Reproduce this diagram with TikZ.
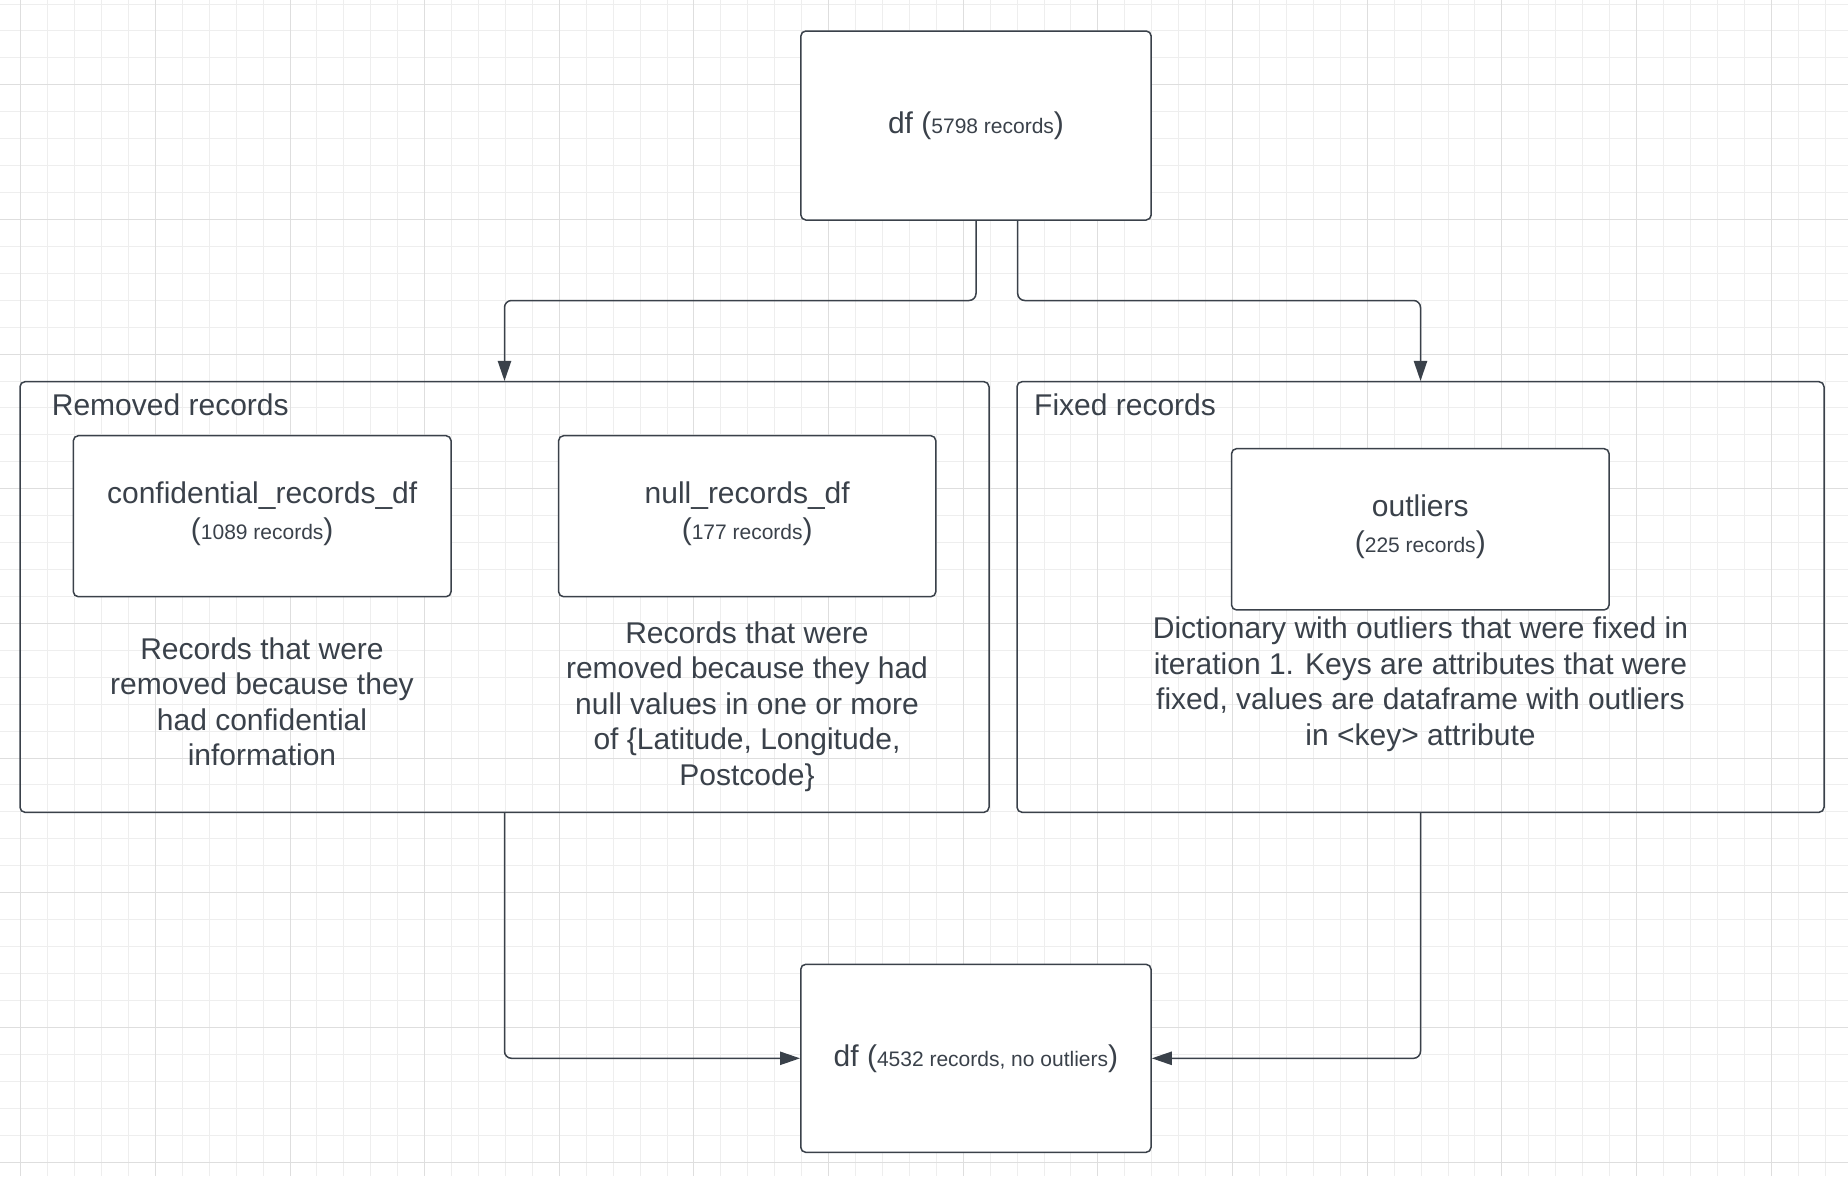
\documentclass[tikz,border=0pt]{standalone}
\usepackage{fontspec}
\setmainfont{Liberation Sans}
\usetikzlibrary{arrows.meta,calc}
\definecolor{ink}{HTML}{3A414A}
\definecolor{gridminor}{HTML}{EEEEEE}
\definecolor{gridmajor}{HTML}{DEDEDE}
\newcommand\fzL{\fontsize{30}{36}\selectfont}
\newcommand\fzS{\fontsize{21}{25}\selectfont}
\newcommand\fzD{\fontsize{30}{35.5}\selectfont}
\newcommand\dpfix{\rule[-11pt]{0pt}{0pt}}
\begin{document}
\begin{tikzpicture}[x=1pt,y=-1pt,
  box/.style={draw=ink, line width=1.5pt, rounded corners=5pt, fill=white, inner sep=0pt, text=ink, align=center, font=\fzL},
  cont/.style={draw=ink, line width=1.5pt, rounded corners=5pt, inner sep=0pt},
  lbl/.style={text=ink, font=\fzL, inner sep=0pt},
  desc/.style={text=ink, align=center, font=\fzD, inner sep=0pt},
  arr/.style={draw=ink, line width=1.5pt, rounded corners=7pt, -{Triangle[length=20pt,width=13.3pt]}},
  gmin/.style={draw=gridminor, line width=1pt},
  gmaj/.style={draw=gridmajor, line width=1pt}]
\useasboundingbox (0,0) rectangle (1848,1176);
\fill[white] (0,0) rectangle (1848,1176);
% grid
\foreach \k in {0,...,67}{\pgfmathsetmacro\xx{20.7+26.93*\k}\draw[gmin] (\xx,0) -- (\xx,1176);}
\foreach \k in {0,...,43}{\pgfmathsetmacro\yy{4+26.93*\k}\draw[gmin] (0,\yy) -- (1848,\yy);}
\foreach \k in {0,5,...,65}{\pgfmathsetmacro\xx{20.7+26.93*\k}\draw[gmaj] (\xx,0) -- (\xx,1176);}
\foreach \k in {3,8,...,43}{\pgfmathsetmacro\yy{4+26.93*\k}\draw[gmaj] (0,\yy) -- (1848,\yy);}
% containers
\node[cont, minimum width=969pt, minimum height=430.6pt] (removed) at (504.5,597) {};
\node[cont, minimum width=807pt, minimum height=430.6pt] (fixed) at (1420.5,597) {};
\node[lbl, anchor=base west] (removedlbl) at (51.7,415) {Removed records};
\node[lbl, anchor=base west] (fixedlbl) at (1034,415) {Fixed records};
% boxes
\node[box, minimum width=350.3pt, minimum height=189pt] (top) at (976,125.5) {df ({\fzS 5798 records})};
\node[box, minimum width=377.7pt, minimum height=161pt] (conf) at (262.2,516.2) {confidential\_records\_df\\({\fzS 1089 records})\dpfix};
\node[box, minimum width=377.2pt, minimum height=161pt] (null) at (747.2,516.2) {null\_records\_df\\({\fzS 177 records})\dpfix};
\node[box, minimum width=377.5pt, minimum height=161.3pt] (outl) at (1420.3,529.3) {outliers\\({\fzS 225 records})\dpfix};
\node[box, minimum width=350.3pt, minimum height=188pt] (bottom) at (975.9,1058.3) {df ({\fzS 4532 records, no outliers})};
% descriptions
\node[desc] (confdesc) at (262,701.7) {Records that were\\removed because they\\had confidential\\information};
\node[desc] (nulldesc) at (747,706.5) {Records that were\\removed because they had\\null values in one or more\\of \{Latitude, Longitude,\\Postcode\}};
\node[desc] (outldesc) at (1420.5,684) {Dictionary with outliers that were fixed in\\iteration 1. Keys are attributes that were\\fixed, values are dataframe with outliers\\in <key> attribute};
% connectors
\coordinate (topR) at ($(top.south)+(41.7,0)$);
\draw[arr] (top.south) -- (top.south |- 0,300.5) -| (removed.north);
\draw[arr] (topR) -- (topR |- 0,300.5) -| (fixed.north);
\draw[arr] (removed.south) |- (bottom.west);
\draw[arr] (fixed.south) |- (bottom.east);
\end{tikzpicture}
\end{document}
